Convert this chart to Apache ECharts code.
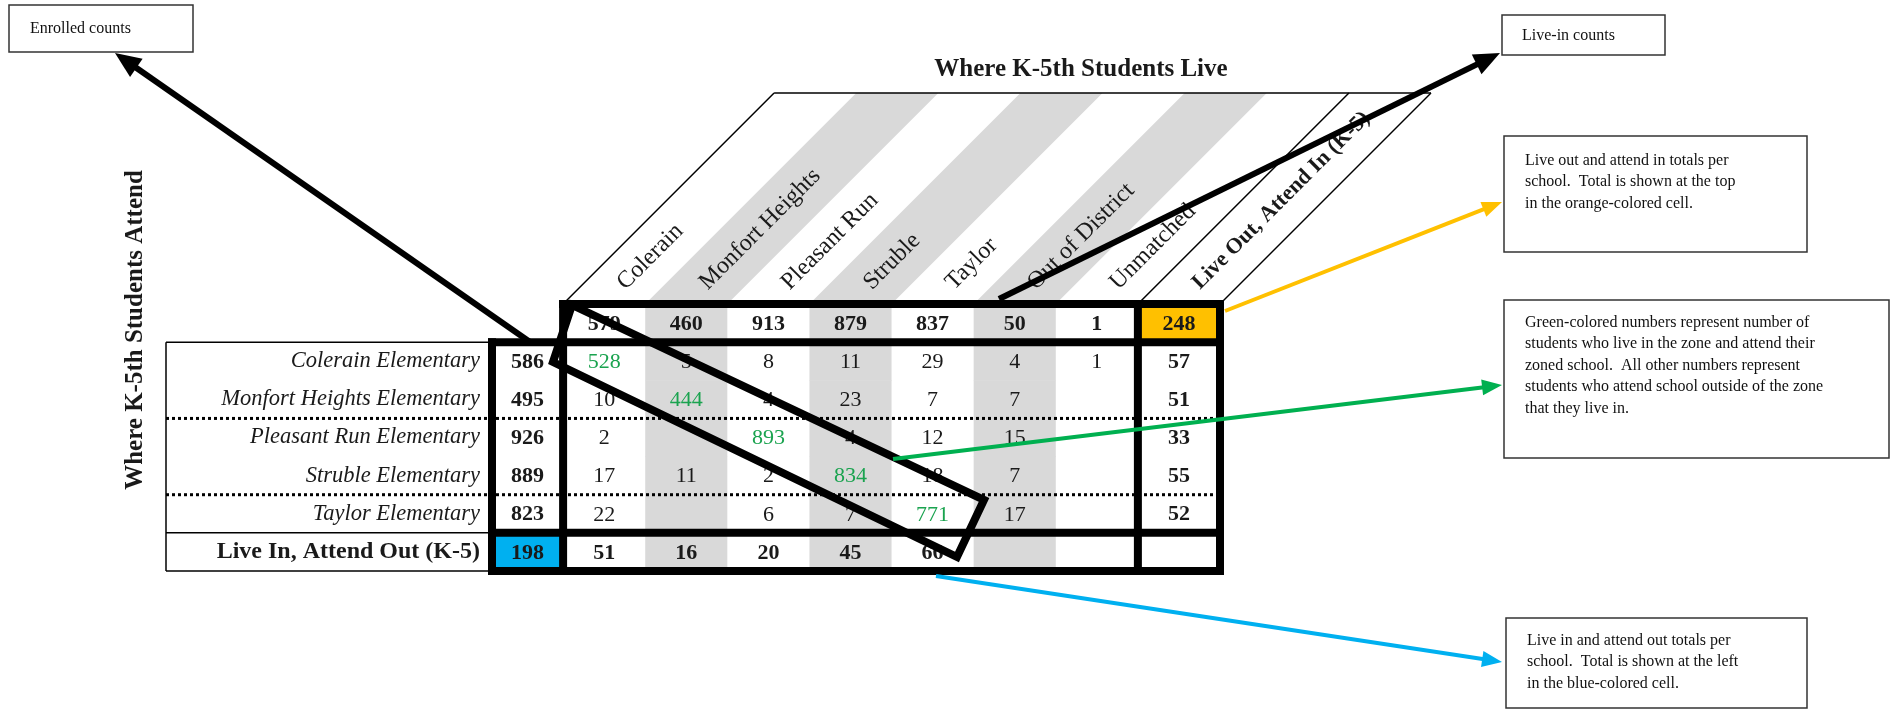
<!DOCTYPE html>
<html><head><meta charset="utf-8">
<script src="https://cdn.jsdelivr.net/npm/echarts/dist/echarts.min.js"></script>
<style>html,body{margin:0;padding:0;background:#fff}#c{width:1893px;height:713px}</style>
</head><body><div id="c"></div>
<script>
// ---------------- data ----------------
const liveZones = ['Colerain', 'Monfort Heights', 'Pleasant Run', 'Struble', 'Taylor', 'Out of District', 'Unmatched'];
const liveOutHeader = 'Live Out, Attend In (K-5)';
const schools = ['Colerain Elementary', 'Monfort Heights Elementary', 'Pleasant Run Elementary', 'Struble Elementary', 'Taylor Elementary'];
const liveInAttendOutLabel = 'Live In, Attend Out (K-5)';
const liveInCounts = [579, 460, 913, 879, 837, 50, 1];
const liveOutAttendInTotal = 248;
const enrolledCounts = [586, 495, 926, 889, 823];
const liveInAttendOutTotal = 198;
const colerainRow = [528, 5, 8, 11, 29, 4, 1];
const monfortRow = [10, 444, 4, 23, 7, 7, null];
const pleasantRunRow = [2, null, 893, 4, 12, 15, null];
const strubleRow = [17, 11, 2, 834, 18, 7, null];
const taylorRow = [22, null, 6, 7, 771, 17, null];
const liveOutAttendIn = [57, 51, 33, 55, 52];
const liveInAttendOut = [51, 16, 20, 45, 66];
const titleTop = 'Where K-5th Students Live';
const titleSide = 'Where K-5th Students Attend';

// ---------------- layout / style ----------------
const FONT = '"Liberation Serif", "Times New Roman", serif';
const ENROLLED_W = 0.866;   // enrolled column width, in column units
const SLANT = 211;          // header band height (45 degree slant)
const LABEL_BOX_W = 326;
const STRIPE_COLS = [2, 4, 6];
const GRAY = '#d9d9d9', ORANGE = '#FFC000', BLUE = '#00B0F0', GREEN = '#1aa34f', INK = '#1a1a1a';

const matrix = [colerainRow, monfortRow, pleasantRunRow, strubleRow, taylorRow];
const rowNames = [''].concat(schools, [liveInAttendOutLabel]);

function colLeft(c) { return c === 0 ? -ENROLLED_W : c - 1; }
function colRight(c) { return c === 0 ? 0 : c; }

// build cells
const cells = [];
for (let c = 0; c < 9; c++) {
  let v = null, kind = '';
  if (c >= 1 && c <= 7) v = liveInCounts[c - 1];
  if (c === 8) { v = liveOutAttendInTotal; kind = 'orange'; }
  cells.push({ col: c, row: 0, val: v, kind: kind, bold: true });
}
for (let r = 1; r <= 5; r++) {
  cells.push({ col: 0, row: r, val: enrolledCounts[r - 1], kind: '', bold: true });
  for (let c = 1; c <= 7; c++) {
    cells.push({ col: c, row: r, val: matrix[r - 1][c - 1], kind: '', bold: false, green: c === r });
  }
  cells.push({ col: 8, row: r, val: liveOutAttendIn[r - 1], kind: '', bold: true });
}
cells.push({ col: 0, row: 6, val: liveInAttendOutTotal, kind: 'blue', bold: true });
for (let c = 1; c <= 8; c++) {
  cells.push({ col: c, row: 6, val: c <= 5 ? liveInAttendOut[c - 1] : null, kind: '', bold: true });
}

const headerCols = liveZones.map((n, i) => ({ col: i + 1, name: n, bold: false }))
  .concat([{ col: 8, name: liveOutHeader, bold: true }]);

function renderCell(params, api) {
  const cell = cells[params.dataIndex];
  const y0 = api.coord([0, cell.row])[1];
  const rowH = Math.abs(api.coord([0, 1])[1] - api.coord([0, 0])[1]);
  const x0 = api.coord([colLeft(cell.col), cell.row])[0];
  const x1 = api.coord([colRight(cell.col), cell.row])[0];
  const children = [];
  let fill = null;
  if (cell.kind === 'orange') fill = ORANGE;
  else if (cell.kind === 'blue') fill = BLUE;
  else if (STRIPE_COLS.indexOf(cell.col) >= 0) fill = GRAY;
  if (fill) children.push({ type: 'rect', shape: { x: x0, y: y0 - rowH / 2, width: x1 - x0, height: rowH + 0.5 }, style: { fill: fill } });
  if (cell.val != null) {
    children.push({ type: 'text', x: (x0 + x1) / 2, y: y0 + 1, style: {
      text: String(cell.val), fontFamily: FONT, fontSize: 22, fontWeight: cell.bold ? 'bold' : 'normal',
      fill: cell.green ? GREEN : INK, align: 'center', verticalAlign: 'middle' } });
  }
  return { type: 'group', children: children };
}

function renderHeader(params, api) {
  const h = headerCols[params.dataIndex];
  const rowH = Math.abs(api.coord([0, 1])[1] - api.coord([0, 0])[1]);
  const yb = api.coord([0, 0])[1] - rowH / 2;
  const x0 = api.coord([h.col - 1, 0])[0];
  const x1 = api.coord([h.col, 0])[0];
  const children = [];
  if (STRIPE_COLS.indexOf(h.col) >= 0) {
    children.push({ type: 'polygon', shape: { points: [[x0, yb], [x1, yb], [x1 + SLANT, yb - SLANT], [x0 + SLANT, yb - SLANT]] }, style: { fill: GRAY } });
  }
  children.push({ type: 'text', x: x0 + 58, y: yb - 18, rotation: Math.PI / 4, style: {
    text: h.name, fontFamily: FONT, fontSize: h.bold ? 22 : 24, fontWeight: h.bold ? 'bold' : 'normal',
    fill: INK, align: 'left', verticalAlign: 'middle' } });
  return { type: 'group', children: children };
}

function renderFrame(params, api) {
  const X = v => api.coord([v, 0])[0];
  const rowH = Math.abs(api.coord([0, 1])[1] - api.coord([0, 0])[1]);
  const top = api.coord([0, 0])[1] - rowH / 2;
  const Y = k => top + k * rowH;
  const xe = X(-ENROLLED_W), xl = xe - LABEL_BOX_W, xc = X(0), xs = X(7), xr = X(8);
  const thick = { stroke: '#000', lineWidth: 8, lineCap: 'square' };
  const thin = { stroke: '#000', lineWidth: 1.5 };
  const dot = { stroke: '#000', lineWidth: 3, lineDash: [3, 3] };
  const L = (x1, y1, x2, y2, st) => ({ type: 'line', shape: { x1, y1, x2, y2 }, style: st });
  return { type: 'group', children: [
    // header parallelogram outline
    L(xc + SLANT, Y(0) - SLANT, xr + SLANT, Y(0) - SLANT, thin),
    L(xc, Y(0), xc + SLANT, Y(0) - SLANT, thin),
    L(xs, Y(0), xs + SLANT, Y(0) - SLANT, thin),
    L(xr, Y(0), xr + SLANT, Y(0) - SLANT, thin),
    // label box
    L(xl, Y(1), xe, Y(1), thin),
    L(xl, Y(6), xe, Y(6), thin),
    L(xl, Y(7), xe, Y(7), thin),
    L(xl, Y(1), xl, Y(7), thin),
    // dotted group separators
    L(xl, Y(3), xr, Y(3), dot),
    L(xl, Y(5), xr, Y(5), dot),
    // thick frame
    L(xc, Y(0), xr, Y(0), thick),
    L(xe, Y(1), xr, Y(1), thick),
    L(xe, Y(6), xr, Y(6), thick),
    L(xe, Y(7), xr, Y(7), thick),
    L(xe, Y(1), xe, Y(7), thick),
    L(xc, Y(0), xc, Y(7), thick),
    L(xs, Y(0), xs, Y(7), thick),
    L(xr, Y(0), xr, Y(7), thick)
  ] };
}

// ---------------- annotations ----------------
function arrow(x1, y1, x2, y2, color, w, hl, hw) {
  const dx = x2 - x1, dy = y2 - y1, len = Math.sqrt(dx * dx + dy * dy);
  const ux = dx / len, uy = dy / len, px = -uy, py = ux;
  const bx = x2 - ux * hl, by = y2 - uy * hl;
  return [
    { type: 'line', z: 100, shape: { x1: x1, y1: y1, x2: bx + ux * 2, y2: by + uy * 2 }, style: { stroke: color, lineWidth: w } },
    { type: 'polygon', z: 101, shape: { points: [[x2, y2], [bx + px * hw / 2, by + py * hw / 2], [bx - px * hw / 2, by - py * hw / 2]] }, style: { fill: color } }
  ];
}
function box(x, y, w, h) {
  return { type: 'rect', z: 100, shape: { x: x, y: y, width: w, height: h }, style: { fill: '#fff', stroke: '#333', lineWidth: 1.5 } };
}
function note(x, y, text, va) {
  return { type: 'text', z: 102, x: x, y: y, style: { text: text, fontFamily: FONT, fontSize: 16, lineHeight: 21.5, fill: '#111', align: 'left', verticalAlign: va || 'top' } };
}

const graphics = [].concat(
  [
    { type: 'text', z: 50, x: 1081, y: 70, style: { text: titleTop, fontFamily: FONT, fontSize: 25, fontWeight: 'bold', fill: INK, align: 'center', verticalAlign: 'middle' } },
    { type: 'text', z: 50, x: 136, y: 330, rotation: Math.PI / 2, style: { text: titleSide, fontFamily: FONT, fontSize: 25, fontWeight: 'bold', fill: INK, align: 'center', verticalAlign: 'middle' } },
    { type: 'polygon', z: 99, shape: { points: [[572, 305], [984, 500], [957, 557], [553, 362]] }, style: { fill: null, stroke: '#000', lineWidth: 8, lineJoin: 'miter' } }
  ],
  arrow(530, 342, 115, 53, '#000', 6, 26, 22),
  arrow(999, 299, 1500, 53, '#000', 6, 26, 22),
  arrow(1225, 311, 1502, 202, ORANGE, 4, 20, 16),
  arrow(893, 459, 1502, 385, '#00B050', 4, 20, 16),
  arrow(936, 576, 1502, 662, BLUE, 4, 20, 16),
  [
    box(9, 5, 184, 47), note(30, 29, 'Enrolled counts', 'middle'),
    box(1502, 15, 163, 40), note(1522, 36, 'Live-in counts', 'middle'),
    box(1504, 136, 303, 116), note(1525, 150, 'Live out and attend in totals per\nschool.  Total is shown at the top\nin the orange-colored cell.'),
    box(1504, 300, 385, 158), note(1525, 312, 'Green-colored numbers represent number of\nstudents who live in the zone and attend their\nzoned school.  All other numbers represent\nstudents who attend school outside of the zone\nthat they live in.'),
    box(1506, 618, 301, 90), note(1527, 630, 'Live in and attend out totals per\nschool.  Total is shown at the left\nin the blue-colored cell.')
  ]
);

const chart = echarts.init(document.getElementById('c'));
chart.setOption({
  animation: false,
  backgroundColor: '#fff',
  grid: { left: 492, top: 304, width: 728, height: 267, containLabel: false },
  xAxis: { type: 'value', min: -ENROLLED_W, max: 8, show: false },
  yAxis: {
    type: 'category', inverse: true, data: rowNames,
    axisLine: { show: false }, axisTick: { show: false }, splitLine: { show: false },
    axisLabel: {
      interval: 0, margin: 12,
      formatter: function (v, i) { return i === 0 ? '' : (i === 6 ? '{b|' + v + '}' : '{i|' + v + '}'); },
      rich: {
        i: { fontFamily: FONT, fontSize: 22.5, fontStyle: 'italic', color: INK },
        b: { fontFamily: FONT, fontSize: 24, fontWeight: 'bold', color: INK }
      }
    }
  },
  series: [
    { type: 'custom', name: 'header', clip: false, z: 2, renderItem: renderHeader,
      data: headerCols.map(h => [h.col - 0.5, 0]), encode: { x: 0, y: 1 } },
    { type: 'custom', name: 'cells', clip: false, z: 3, renderItem: renderCell,
      data: cells.map(c => [c.col, c.row, c.val]), encode: { x: 0, y: 1 } },
    { type: 'custom', name: 'frame', clip: false, z: 5, renderItem: renderFrame,
      data: [[0, 0]], encode: { x: 0, y: 1 } }
  ],
  graphic: graphics
});
</script></body></html>
